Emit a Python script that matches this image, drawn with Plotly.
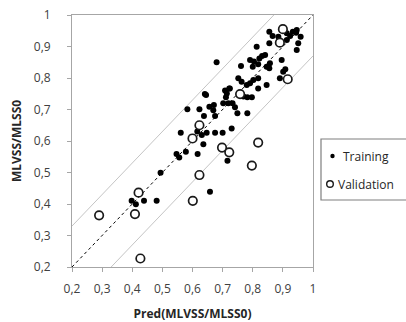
import plotly.graph_objects as go

train_x = [0.855,0.866,0.885,0.913,0.924,0.933,0.944,0.959,0.951,0.946,0.855,0.813,0.896,0.890,0.901,0.908,
           0.791,0.804,0.822,0.831,0.841,0.818,0.846,0.855,0.857,0.800,0.761,0.752,0.763,0.780,0.791,0.802,
           0.818,0.818,0.846,0.769,0.782,0.797,0.724,0.708,0.711,0.645,0.733,0.741,0.702,0.671,0.656,0.669,
           0.623,0.583,0.638,0.675,0.749,0.782,0.561,0.616,0.647,0.675,0.700,0.730,0.631,0.636,0.680,0.716,
           0.658,0.547,0.556,0.578,0.617,0.494,0.398,0.412,0.439,0.481,0.913,0.946,0.719,0.714,0.722,0.641]
train_y = [0.947,0.933,0.931,0.942,0.933,0.947,0.944,0.931,0.910,0.889,0.910,0.899,0.857,0.799,0.820,0.828,
           0.857,0.852,0.862,0.870,0.873,0.844,0.836,0.831,0.847,0.836,0.838,0.799,0.788,0.778,0.783,0.794,
           0.799,0.767,0.778,0.741,0.739,0.739,0.767,0.760,0.739,0.746,0.720,0.707,0.720,0.714,0.709,0.698,
           0.701,0.701,0.679,0.679,0.688,0.688,0.626,0.630,0.626,0.626,0.626,0.640,0.619,0.590,0.850,0.537,
           0.439,0.559,0.548,0.566,0.559,0.499,0.410,0.399,0.410,0.410,0.921,0.952,0.720,0.751,0.767,0.749]

valid_x = [0.900,0.890,0.916,0.758,0.623,0.600,0.698,0.722,0.818,0.797,0.623,0.601,0.421,0.409,0.290,0.427]
valid_y = [0.955,0.912,0.796,0.749,0.650,0.608,0.579,0.564,0.595,0.522,0.492,0.410,0.436,0.368,0.364,0.227]

tick_vals = [0.2,0.3,0.4,0.5,0.6,0.7,0.8,0.9,1.0]
tick_text = ["0,2","0,3","0,4","0,5","0,6","0,7","0,8","0,9","1"]
band = 0.13
ref_x = [0.2, 1.0]
series_names = ["Training", "Validation"]

FONT = "Open Sans"
W, H = 406, 322
L, R, T, B = 72, 93, 15, 55
pw, ph = W - L - R, H - T - B


def px_x(p):
    return (p - L) / pw


def px_y(p):
    return (H - B - p) / ph


fig = go.Figure()

# 1:1 line
fig.add_trace(go.Scatter(x=ref_x, y=ref_x, mode="lines", line=dict(color="black", width=1, dash="dot"),
                         showlegend=False, hoverinfo="skip"))
# band lines
up_x = [ref_x[0], ref_x[1] - band]
fig.add_trace(go.Scatter(x=up_x, y=[v + band for v in up_x], mode="lines",
                         line=dict(color="#c4c4c4", width=1), showlegend=False, hoverinfo="skip"))
lo_x = [ref_x[0] + band, ref_x[1]]
fig.add_trace(go.Scatter(x=lo_x, y=[v - band for v in lo_x], mode="lines",
                         line=dict(color="#c4c4c4", width=1), showlegend=False, hoverinfo="skip"))

fig.add_trace(go.Scatter(x=train_x, y=train_y, mode="markers", name=series_names[0],
                         marker=dict(color="black", size=6, line=dict(width=0))))
fig.add_trace(go.Scatter(x=valid_x, y=valid_y, mode="markers", name=series_names[1],
                         marker=dict(color="white", size=8.5, line=dict(color="#1a1a1a", width=1.7))))

axis_common = dict(range=[0.2, 1.0], tickvals=tick_vals, ticktext=tick_text, showgrid=False, zeroline=False,
                   showline=True, linecolor="#a6a6a6", linewidth=1, mirror=True, ticks="outside",
                   tickcolor="#a6a6a6", ticklen=4, tickwidth=1, automargin=False,
                   tickfont=dict(family=FONT, size=12, color="#404040"))

# manual legend
shapes = [dict(type="rect", xref="paper", yref="paper", x0=px_x(321), x1=px_x(420), y0=px_y(200), y1=px_y(139),
               line=dict(color="#7f7f7f", width=1.2), fillcolor="white", layer="above")]
shapes.append(dict(type="circle", xref="paper", yref="paper", xsizemode="pixel", ysizemode="pixel",
                   xanchor=px_x(332.5), yanchor=px_y(156), x0=-2.2, x1=2.2, y0=-2.2, y1=2.2,
                   fillcolor="black", line=dict(width=0), layer="above"))
shapes.append(dict(type="circle", xref="paper", yref="paper", xsizemode="pixel", ysizemode="pixel",
                   xanchor=px_x(330), yanchor=px_y(184), x0=-3.3, x1=3.3, y0=-3.3, y1=3.3,
                   fillcolor="white", line=dict(width=1.4, color="#1a1a1a"), layer="above"))
annotations = [
    dict(xref="paper", yref="paper", x=px_x(341), y=px_y(156), text=series_names[0], showarrow=False,
         xanchor="left", yanchor="middle", font=dict(family=FONT, size=12, color="#262626")),
    dict(xref="paper", yref="paper", x=px_x(335.5), y=px_y(184), text=series_names[1], showarrow=False,
         xanchor="left", yanchor="middle", font=dict(family=FONT, size=12, color="#262626")),
]

fig.update_layout(
    width=W, height=H,
    margin=dict(l=L, r=R, t=T, b=B),
    paper_bgcolor="white", plot_bgcolor="white",
    xaxis=dict(**axis_common, ticklabelstandoff=7,
               title=dict(text="<b>Pred(MLVSS/MLSS0)</b>", standoff=13,
                          font=dict(family=FONT, size=12, color="#262626"))),
    yaxis=dict(**axis_common, ticklabelstandoff=14,
               title=dict(text="<b>MLVSS/MLSS0</b>", standoff=9,
                          font=dict(family=FONT, size=12, color="#262626"))),
    showlegend=False,
    shapes=shapes,
    annotations=annotations,
)

fig.write_html("out.html")
